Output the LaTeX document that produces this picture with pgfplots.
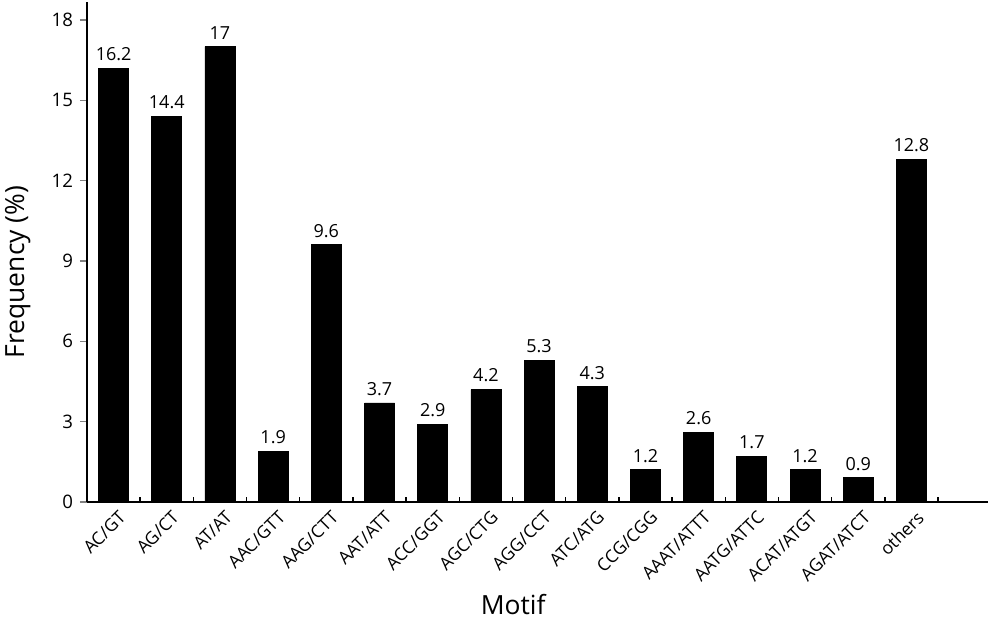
\documentclass[border=0pt]{standalone}
\usepackage{pgfplots}
\pgfplotsset{compat=1.18}
\usepackage{fontspec}
\setmainfont{Open Sans}

\begin{document}
\begin{tikzpicture}
\useasboundingbox (-43.5pt,-58.5pt) rectangle (451.5pt,251pt);
\begin{axis}[
    at={(0,0)}, anchor=south west,
    scale only axis,
    width=450.5pt, height=250pt,
    axis x line=bottom, axis y line=left,
    axis line style={-, line width=0.7pt},
    xmin=-0.5, xmax=16.44,
    ymin=0, ymax=18.67,
    ytick={0,3,...,18},
    ytick align=outside,
    major tick length=3.5pt,
    xtick={0,...,15},
    xticklabels={AC/GT,AG/CT,AT/AT,AAC/GTT,AAG/CTT,AAT/ATT,ACC/GGT,AGC/CTG,AGG/CCT,ATC/ATG,CCG/CGG,AAAT/ATTT,AATG/ATTC,ACAT/ATGT,AGAT/ATCT,others},
    x tick style={draw=none},
    minor xtick={0.5,1.5,...,15.5},
    minor x tick style={draw=black, line width=0.7pt},
    minor tick length=2.5pt,
    xtick align=inside,
    y tick style={line width=0.7pt},
    xticklabel style={rotate=45, anchor=north east, font=\fontsize{8.8}{10}\selectfont, inner sep=1pt, yshift=-3pt},
    yticklabel style={font=\fontsize{9.3}{11}\selectfont},
    /pgf/number format/assume math mode=true,
    xlabel={Motif},
    ylabel={Frequency (\%)},
    xlabel style={at={(axis description cs:0.473,-0.206)}, anchor=center, font=\fontsize{13.2}{15}\selectfont},
    ylabel style={at={(axis description cs:-0.077,0.46)}, anchor=center, font=\fontsize{13.2}{15}\selectfont},
    nodes near coords,
    every node near coord/.append style={font=\fontsize{9}{10}\selectfont, inner sep=3.5pt},
    clip=false,
]
\addplot[ybar, bar width=15pt, fill=black, draw=black] coordinates {
    (0,16.2) (1,14.4) (2,17) (3,1.9) (4,9.6) (5,3.7) (6,2.9) (7,4.2)
    (8,5.3) (9,4.3) (10,1.2) (11,2.6) (12,1.7) (13,1.2) (14,0.9) (15,12.8)
};
\end{axis}
\end{tikzpicture}
\end{document}
